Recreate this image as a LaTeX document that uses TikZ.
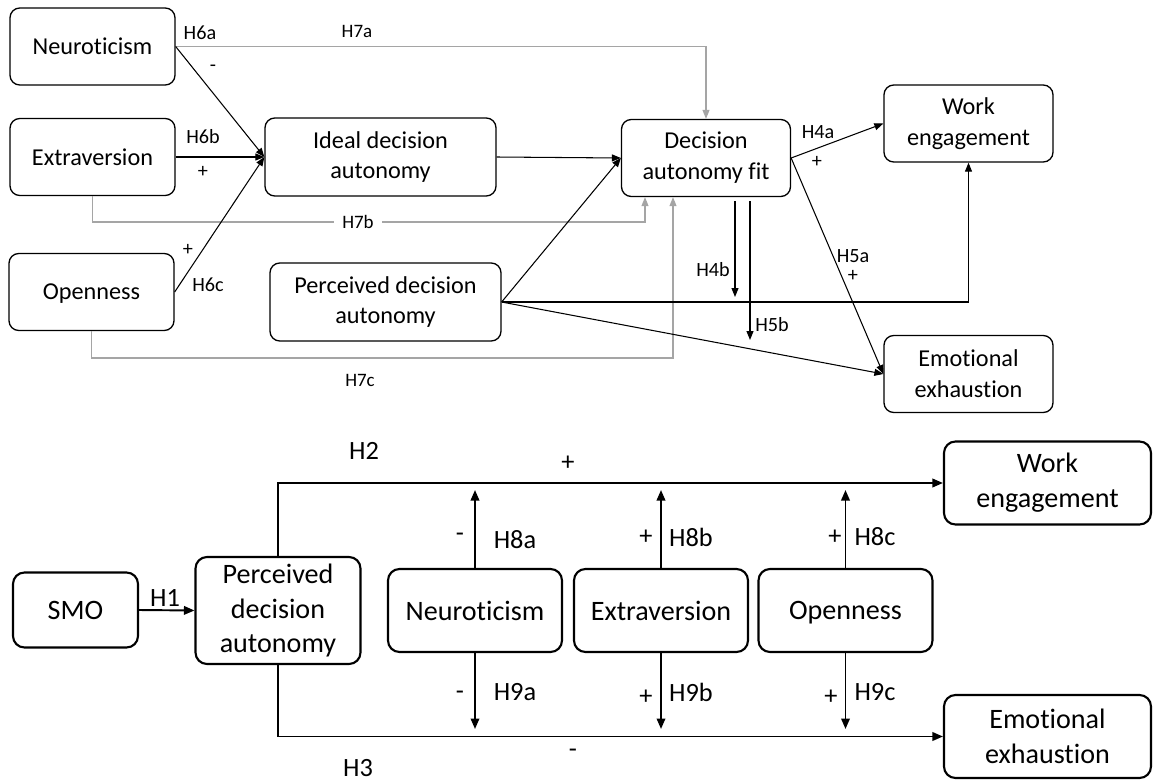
\documentclass[tikz,border=0pt]{standalone}
\usepackage{fontspec}
\setmainfont{Carlito}[Ligatures=NoCommon]
\usepackage{tikz}
\usetikzlibrary{arrows.meta, positioning}
\definecolor{hypgray}{RGB}{165, 165, 165}

\begin{document}
\begin{tikzpicture}[
    x=0.02cm, y=-0.02cm,
    box/.style={draw, line width=0.75pt, rounded corners=5.5pt, align=center, inner sep=0pt, font=\fontsize{13.8}{17.6}\selectfont},
    trait/.style={box, minimum width=3.3cm, minimum height=1.54cm, text depth=0pt},
    wide/.style={box, minimum width=4.62cm, minimum height=1.56cm},
    outcome/.style={box, minimum width=3.38cm, minimum height=1.54cm},
    bigbox/.style={draw, line width=1.2pt, rounded corners=6.5pt, align=center, inner sep=0pt, font=\fontsize{16}{19.8}\selectfont},
    smobox/.style={bigbox, minimum width=2.5cm, minimum height=1.5cm, text depth=0pt},
    pdabox/.style={bigbox, minimum width=3.3cm, minimum height=2.14cm},
    modbox/.style={bigbox, minimum width=3.48cm, minimum height=1.66cm, text depth=0pt},
    outbox/.style={bigbox, minimum width=4.14cm, minimum height=1.66cm},
    link/.style={-{Triangle[length=1.8mm, width=1.4mm]}, line width=0.6pt},
    greylink/.style={-{Triangle[length=1.8mm, width=1.4mm]}, draw=hypgray, line width=0.6pt},
    thicklink/.style={-{Triangle[length=2.1mm, width=1.7mm]}, line width=1.1pt},
    lbl/.style={font=\fontsize{11.5}{13}\selectfont, inner sep=1pt},
    glbl/.style={font=\fontsize{10.8}{12}\selectfont, inner sep=1pt},
    biglbl/.style={font=\fontsize{15}{18}\selectfont, inner sep=1pt},
]
    \useasboundingbox (0,0) rectangle (1153,781);

    % Upper model: traits
    \node[trait] (neuro) at (92.5, 46.5) {Neuroticism};
    \node[trait] (extra) at (92.5, 157) {Extraversion};
    \node[trait] (open) at (91.5, 292) {Openness};

    % Upper model: autonomy and outcomes
    \node[wide] (ideal) at (380.5, 157) {Ideal decision\\autonomy};
    \node[wide] (perc) at (385.5, 302) {Perceived decision\\autonomy};
    \node[outcome] (fit) at (706, 158) {Decision\\autonomy fit};
    \node[outcome] (work) at (968.5, 123.5) {Work\\engagement};
    \node[outcome] (exh) at (968.5, 374) {Emotional\\exhaustion};

    % Upper model: free ends
    \coordinate (h7b) at (645, 222);
    \coordinate (h7c) at (673, 358);
    \coordinate (h4bs) at (735, 201);
    \coordinate (h4be) at (735, 297);
    \coordinate (h5bs) at (750, 201);
    \coordinate (h5be) at (750, 340);

    % Moderation paths (grey)
    \draw[greylink] (neuro.east) -| (fit.north);
    \draw[greylink] (extra.south) |- (h7b) -- (h7b |- fit.south);
    \draw[greylink] (open.south) |- (h7c) -- (h7c |- fit.south);
    \node[glbl] (l7a) at (357, 31) {H7a};
    \node[glbl, fill=white, inner xsep=5pt] (l7b) at (358, 222) {H7b};
    \node[glbl] (l7c) at (360, 380) {H7c};

    % Trait paths
    \draw[link] (neuro.east) -- (ideal.west);
    \draw[link] (extra.east) -- (ideal.west);
    \draw[link] (open.east) -- (ideal.west);
    \node[lbl] (l6a) at (200, 33) {H6a};
    \node[lbl] (s6a) at (213, 68) {-};
    \node[lbl] (l6b) at (203, 137) {H6b};
    \node[lbl] (s6b) at (203, 172) {+};
    \node[lbl] (s6c) at (188, 250) {+};
    \node[lbl] (l6c) at (208, 285) {H6c};

    % Fit paths
    \draw[link] (ideal.east) -- (fit.west);
    \draw[link] (perc.east) -- (fit.west);
    \draw[link] (perc.east) -| (work.south);
    \draw[link] (perc.east) -- (exh.west);
    \draw[link] (fit.east) -- (work.west);
    \draw[link] (fit.east) -- (exh.west);
    \draw[link] (h4bs) -- (h4be);
    \draw[link] (h5bs) -- (h5be);
    \node[lbl] (l4a) at (818, 132) {H4a};
    \node[lbl] (s4a) at (817, 162) {+};
    \node[lbl] (l5a) at (853, 256) {H5a};
    \node[lbl] (s5a) at (853, 276) {+};
    \node[lbl] (l4b) at (713, 270) {H4b};
    \node[lbl] (l5b) at (772, 325) {H5b};

    % Lower model
    \node[smobox] (smo) at (75.5, 610) {SMO};
    \node[pdabox] (pda) at (278, 610.5) {Perceived\\decision\\autonomy};
    \node[modbox] (bneuro) at (475, 610.5) {Neuroticism};
    \node[modbox] (bextra) at (661, 610.5) {Extraversion};
    \node[modbox] (bopen) at (845.5, 610.5) {Openness};
    \node[outbox] (bwork) at (1047.5, 483) {Work\\engagement};
    \node[outbox] (bexh) at (1047.5, 736.5) {Emotional\\exhaustion};

    % Lower model: free ends
    \coordinate (h8a) at (475, 490);
    \coordinate (h8b) at (661, 490);
    \coordinate (h8c) at (845.5, 490);
    \coordinate (h9a) at (475, 729);
    \coordinate (h9b) at (661, 729);
    \coordinate (h9c) at (845.5, 729);

    % Lower model paths
    \draw[thicklink] (smo.east) -- (pda.west);
    \draw[thicklink] (pda.north) |- (bwork.west);
    \draw[thicklink] (pda.south) |- (bexh.west);
    \draw[thicklink] (bneuro.north) -- (h8a);
    \draw[thicklink] (bextra.north) -- (h8b);
    \draw[thicklink] (bopen.north) -- (h8c);
    \draw[thicklink] (bneuro.south) -- (h9a);
    \draw[thicklink] (bextra.south) -- (h9b);
    \draw[thicklink] (bopen.south) -- (h9c);

    % Lower model labels
    \node[biglbl] (l1) at (165, 598) {H1};
    \node[biglbl] (l2) at (364, 451) {H2};
    \node[biglbl] (s2) at (568, 463) {+};
    \node[biglbl] (l3) at (358, 768) {H3};
    \node[biglbl] (s3) at (573, 753) {-};
    \node[biglbl] (s8a) at (460, 537) {-};
    \node[biglbl] (l8a) at (515, 540) {H8a};
    \node[biglbl] (s8b) at (646, 537) {+};
    \node[biglbl] (l8b) at (691, 537) {H8b};
    \node[biglbl] (s8c) at (835, 537) {+};
    \node[biglbl] (l8c) at (875, 537) {H8c};
    \node[biglbl] (s9a) at (460, 695) {-};
    \node[biglbl] (l9a) at (515, 692) {H9a};
    \node[biglbl] (s9b) at (646, 697) {+};
    \node[biglbl] (l9b) at (691, 692) {H9b};
    \node[biglbl] (s9c) at (831, 697) {+};
    \node[biglbl] (l9c) at (875, 692) {H9c};

\end{tikzpicture}
\end{document}
